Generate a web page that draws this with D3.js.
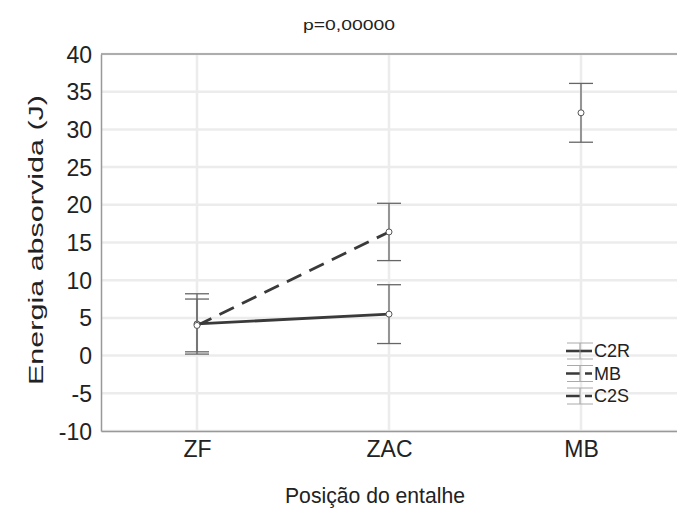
<!DOCTYPE html>
<html>
<head>
<meta charset="utf-8">
<script src="https://cdn.jsdelivr.net/npm/d3@7"></script>
<style>
  body { margin: 0; background: #fff; }
  text { font-family: "Liberation Sans", Arial, sans-serif; fill: #222; }
</style>
</head>
<body>
<svg id="chart"></svg>
<script>
// categories on the x axis
const positions = ["ZF", "ZAC", "MB"];
const yTicks = [-10, -5, 0, 5, 10, 15, 20, 25, 30, 35, 40];

// series: mean and half-width of error bar (null = no value)
const seriesNames = ["C2R", "MB", "C2S"];
const c2rMean = [4.2, 5.5, null];
const c2rErr = [4.0, 3.9, null];
const mbMean = [null, null, 32.2];
const mbErr = [null, null, 3.9];
const c2sMean = [4.0, 16.4, null];
const c2sErr = [3.5, 3.8, null];

const width = 677, height = 511;
const margin = { top: 54, right: 0, bottom: 80, left: 101 };

const svg = d3.select('#chart')
    .attr('width', width)
    .attr('height', height);

const innerW = width - margin.left - margin.right;
const innerH = height - margin.top - margin.bottom;

const chart = svg.append('g')
    .attr('transform', `translate(${margin.left},${margin.top})`);

const xScale = d3.scalePoint()
    .domain(positions)
    .range([0, innerW])
    .padding(0.5);

const yScale = d3.scaleLinear()
    .domain([-10, 40])
    .range([innerH, 0]);

// gridlines
chart.append('g')
    .selectAll('line')
    .data(yTicks)
    .join('line')
    .attr('x1', 0).attr('x2', innerW)
    .attr('y1', d => yScale(d)).attr('y2', d => yScale(d))
    .attr('stroke', '#ececec')
    .attr('stroke-width', 2.5);

chart.append('g')
    .selectAll('line')
    .data(positions)
    .join('line')
    .attr('x1', d => xScale(d)).attr('x2', d => xScale(d))
    .attr('y1', 0).attr('y2', innerH)
    .attr('stroke', '#ececec')
    .attr('stroke-width', 2.5);

// top border
chart.append('line')
    .attr('x1', 0).attr('x2', innerW)
    .attr('y1', 0).attr('y2', 0)
    .attr('stroke', '#999').attr('stroke-width', 1.5);

// axes
const yAxisG = chart.append('g')
    .call(d3.axisLeft(yScale).tickValues(yTicks).tickSize(0).tickPadding(9)
        .tickFormat(d => String(d)));
const xAxisG = chart.append('g')
    .attr('transform', `translate(0,${innerH})`)
    .call(d3.axisBottom(xScale).tickSize(0).tickPadding(10));

[yAxisG, xAxisG].forEach(g => {
    g.select('.domain').attr('stroke', '#999').attr('stroke-width', 1.5);
    g.selectAll('text')
        .style('font-family', '"Liberation Sans", Arial, sans-serif')
        .style('font-size', '23px')
        .attr('fill', '#222');
});
yAxisG.selectAll('text').attr('dy', '0.35em');

// series
const series = [
    { name: "C2R", mean: c2rMean, err: c2rErr, dash: null },
    { name: "MB", mean: mbMean, err: mbErr, dash: '16,9' },
    { name: "C2S", mean: c2sMean, err: c2sErr, dash: '16,9' }
];

const line = d3.line()
    .defined(d => d.v !== null)
    .x(d => xScale(d.cat))
    .y(d => yScale(d.v));

series.forEach(s => {
    const pts = positions.map((cat, i) => ({ cat, v: s.mean[i], e: s.err[i] }))
        .filter(d => d.v !== null);

    const g = chart.append('g');

    // error bars
    const eb = g.selectAll('g.eb').data(pts).join('g');
    eb.append('line')
        .attr('x1', d => xScale(d.cat)).attr('x2', d => xScale(d.cat))
        .attr('y1', d => yScale(d.v + d.e)).attr('y2', d => yScale(d.v - d.e))
        .attr('stroke', '#666').attr('stroke-width', 1.3);
    [1, -1].forEach(sign => {
        eb.append('line')
            .attr('x1', d => xScale(d.cat) - 12).attr('x2', d => xScale(d.cat) + 12)
            .attr('y1', d => yScale(d.v + sign * d.e)).attr('y2', d => yScale(d.v + sign * d.e))
            .attr('stroke', '#666').attr('stroke-width', 1.3);
    });

    // mean line
    g.append('path')
        .datum(pts)
        .attr('fill', 'none')
        .attr('stroke', '#3a3a3a')
        .attr('stroke-width', 2.8)
        .attr('stroke-dasharray', s.dash)
        .attr('d', line);

    // markers
    g.selectAll('circle').data(pts).join('circle')
        .attr('cx', d => xScale(d.cat))
        .attr('cy', d => yScale(d.v))
        .attr('r', 3)
        .attr('fill', '#fff')
        .attr('stroke', '#555')
        .attr('stroke-width', 1);
});

// title
svg.append('text')
    .attr('x', 349).attr('y', 30)
    .attr('text-anchor', 'middle')
    .attr('textLength', 92)
    .attr('lengthAdjust', 'spacingAndGlyphs')
    .style('font-size', '15px')
    .attr('fill', '#333')
    .text('p=0,00000');

// axis titles
svg.append('text')
    .attr('transform', `translate(43,240) rotate(-90)`)
    .attr('text-anchor', 'middle')
    .attr('textLength', 290)
    .attr('lengthAdjust', 'spacingAndGlyphs')
    .style('font-size', '21px')
    .text('Energia absorvida (J)');

svg.append('text')
    .attr('x', 375).attr('y', 503)
    .attr('text-anchor', 'middle')
    .attr('textLength', 180)
    .attr('lengthAdjust', 'spacingAndGlyphs')
    .style('font-size', '22px')
    .text('Posição do entalhe');

// legend
const legend = svg.append('g')
    .attr('transform', 'translate(566,351)');
const legendRows = legend.selectAll('g').data(series).join('g')
    .attr('transform', (d, i) => `translate(0,${i * 22.5})`);
legendRows.append('line')
    .attr('x1', 0).attr('x2', 26).attr('y1', 0).attr('y2', 0)
    .attr('stroke', '#3a3a3a').attr('stroke-width', 2.6)
    .attr('stroke-dasharray', d => d.dash ? '14,5' : null);
legendRows.append('line')
    .attr('x1', 14).attr('x2', 14).attr('y1', -8).attr('y2', 8)
    .attr('stroke', '#999').attr('stroke-width', 1);
[-8, 8].forEach(dy => {
    legendRows.append('line')
        .attr('x1', 1).attr('x2', 27).attr('y1', dy).attr('y2', dy)
        .attr('stroke', '#aaa').attr('stroke-width', 1);
});
legendRows.append('text')
    .attr('x', 28).attr('y', 0).attr('dy', '0.35em')
    .style('font-size', '18px')
    .text(d => d.name);
</script>
</body>
</html>
